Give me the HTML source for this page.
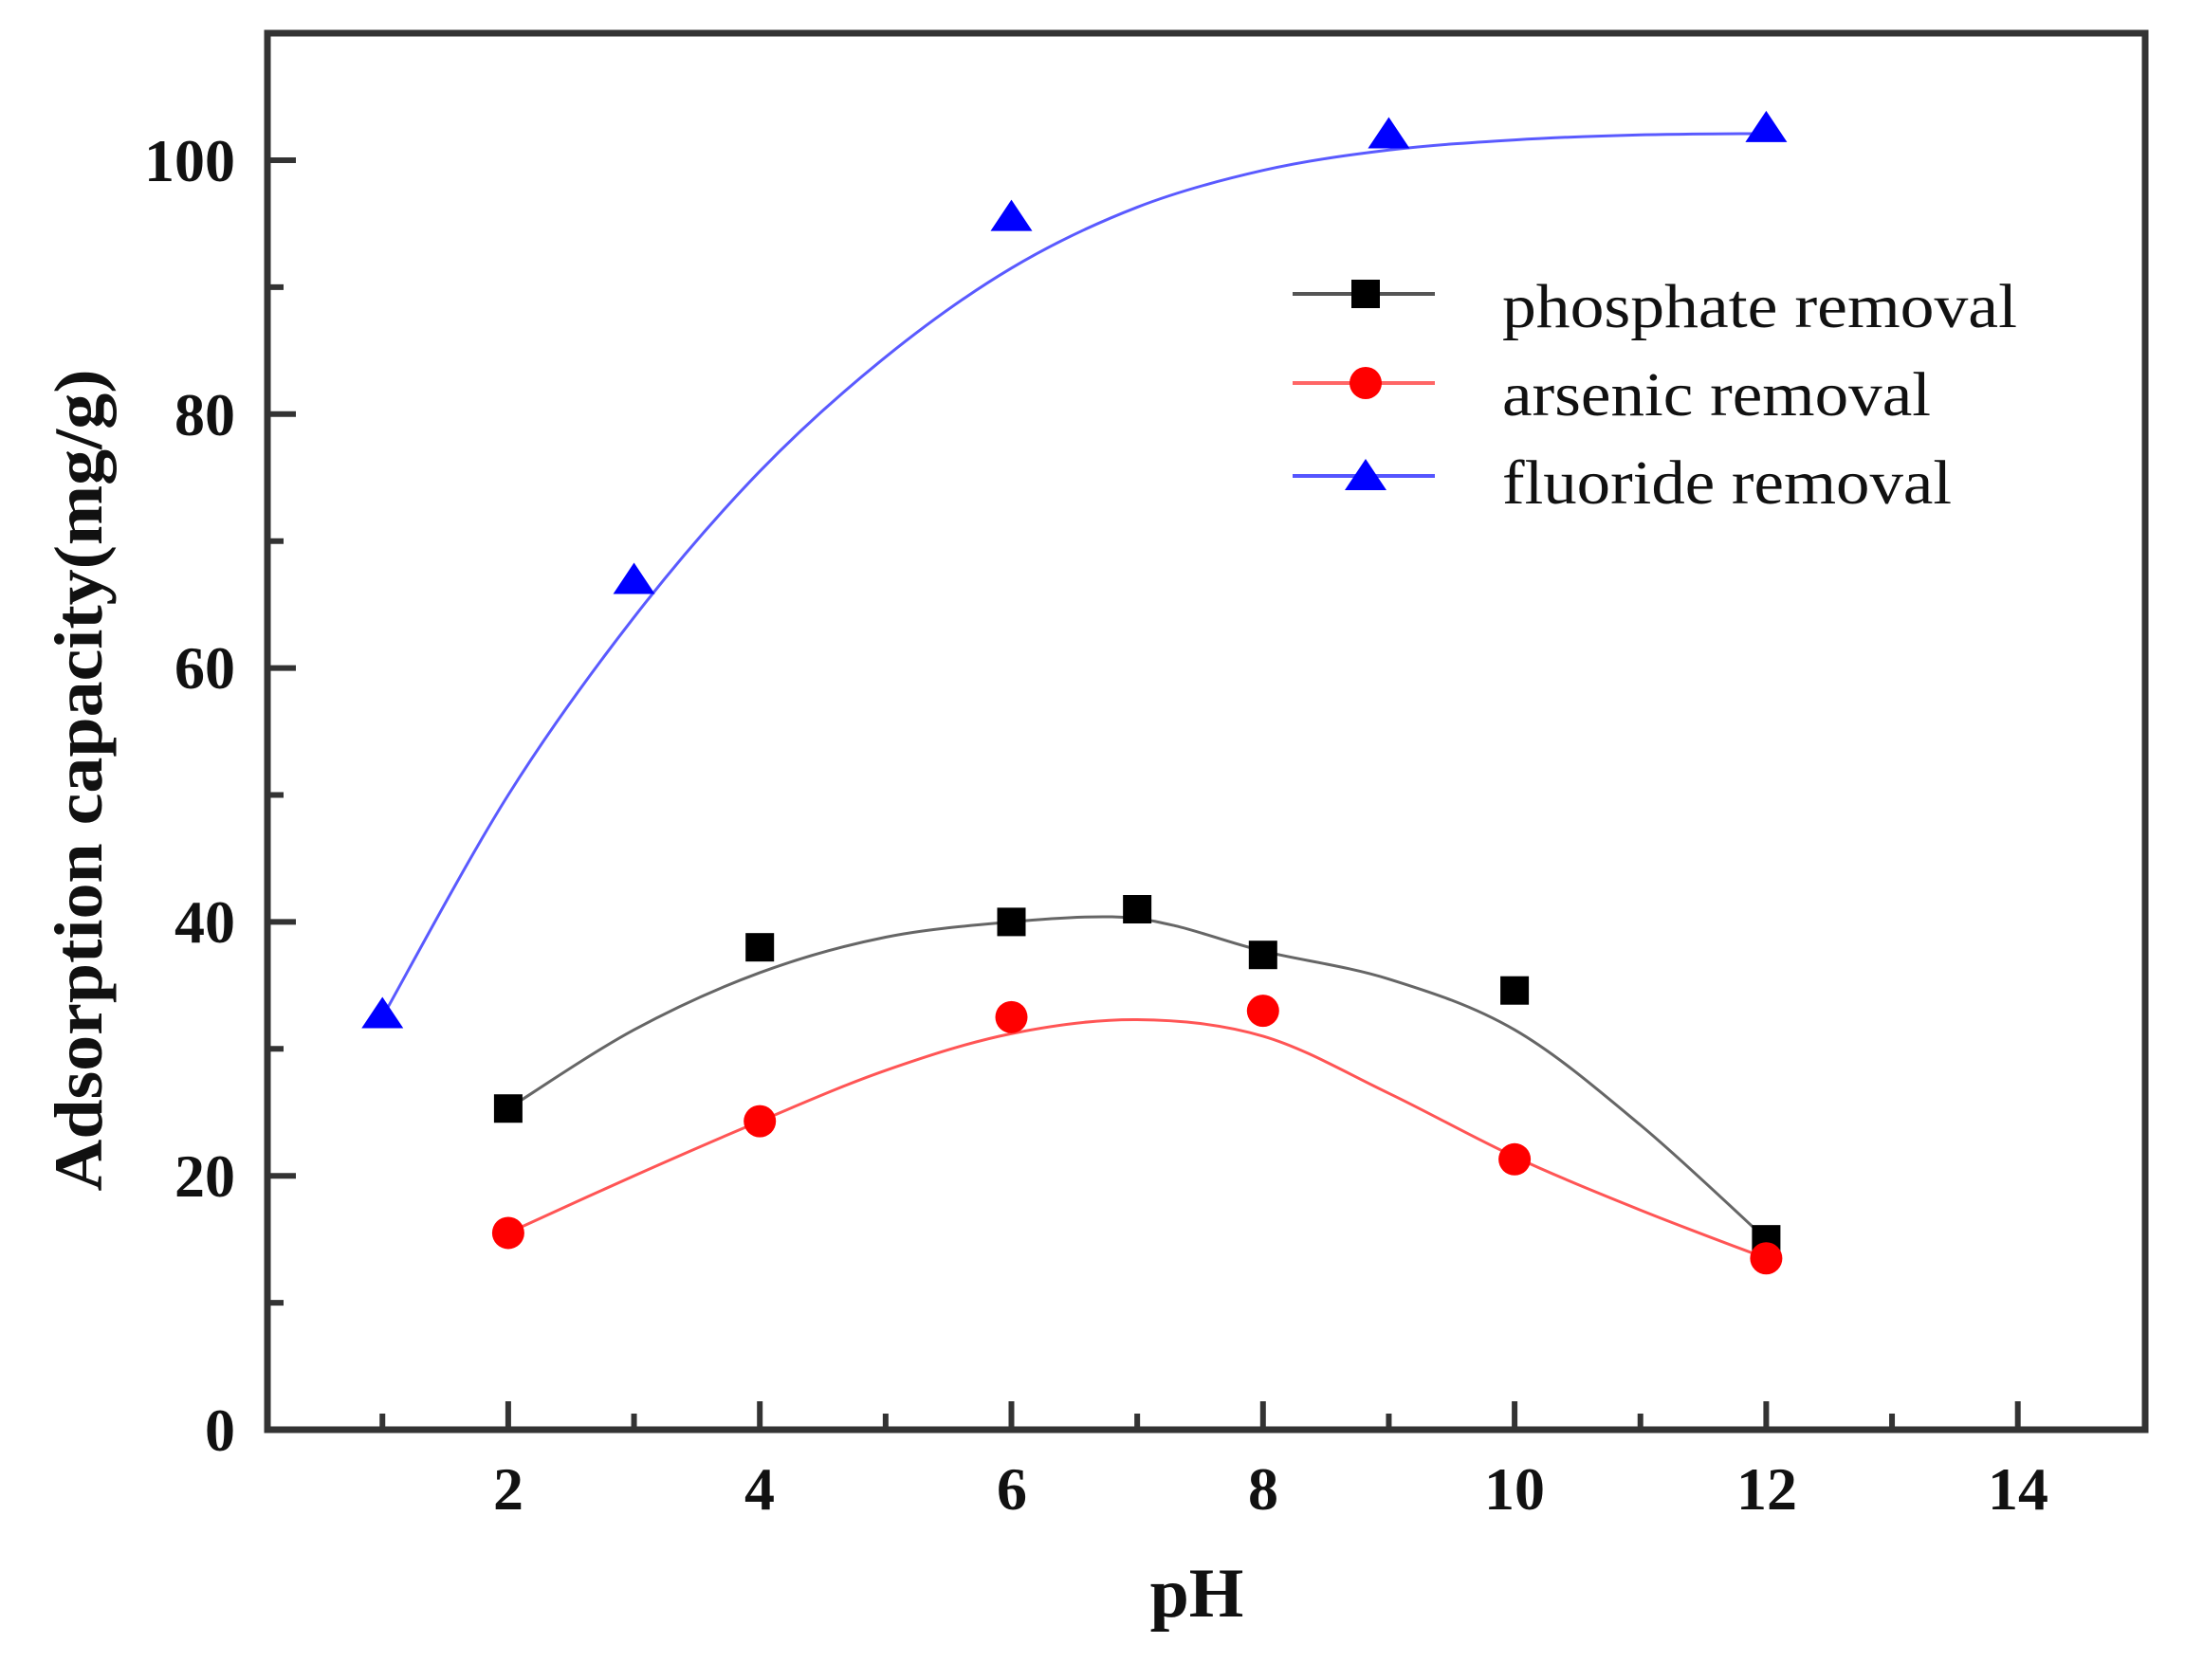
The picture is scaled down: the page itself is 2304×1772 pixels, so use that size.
<!DOCTYPE html>
<html><head><meta charset="utf-8"><style>
html,body{margin:0;padding:0;background:#fff;}
svg{display:block;}
</style></head><body>
<svg id="c" width="2304" height="1772" viewBox="0 0 2304 1772" xmlns="http://www.w3.org/2000/svg">
<rect width="2304" height="1772" fill="#fff"/>
<g id="curves"></g>
<g id="ticks" stroke="#333" stroke-width="6"></g>
<rect x="282" y="35" width="1980" height="1473" fill="none" stroke="#333" stroke-width="7"/>
<g font-family="'Liberation Serif',serif" font-weight="bold" font-size="64" fill="#111" text-anchor="end">
<text x="248" y="1530">0</text>
<text x="248" y="1262">20</text>
<text x="248" y="994">40</text>
<text x="248" y="726">60</text>
<text x="248" y="459">80</text>
<text x="248" y="191">100</text>
</g>
<g font-family="'Liberation Serif',serif" font-weight="bold" font-size="64" fill="#111" text-anchor="middle">
<text x="536" y="1592">2</text>
<text x="801" y="1592">4</text>
<text x="1067" y="1592">6</text>
<text x="1332" y="1592">8</text>
<text x="1597" y="1592">10</text>
<text x="1863" y="1592">12</text>
<text x="2128" y="1592">14</text>
</g>
<text x="1262" y="1705" font-family="'Liberation Serif',serif" font-weight="bold" font-size="74" fill="#111" text-anchor="middle">pH</text>
<text transform="translate(107,823) rotate(-90)" font-family="'Liberation Serif',serif" font-weight="bold" font-size="72" fill="#111" text-anchor="middle" textLength="867" lengthAdjust="spacingAndGlyphs">Adsorption capacity(mg/g)</text>
<g id="markers"></g>
<g>
<line x1="1363" y1="310" x2="1513" y2="310" stroke="#555" stroke-width="4"/>
<rect x="1425" y="295" width="30" height="30" fill="#000"/>
<line x1="1363" y1="404" x2="1513" y2="404" stroke="#f66" stroke-width="4"/>
<circle cx="1440" cy="404" r="17" fill="#f00"/>
<line x1="1363" y1="502" x2="1513" y2="502" stroke="#55f" stroke-width="4"/>
<polygon points="1440,484 1462,517 1418,517" fill="#00f"/>
</g>
<g font-family="'Liberation Serif',serif" font-size="66" fill="#111">
<text x="1584" y="345" textLength="543" lengthAdjust="spacingAndGlyphs">phosphate removal</text>
<text x="1584" y="438" textLength="452" lengthAdjust="spacingAndGlyphs">arsenic removal</text>
<text x="1584" y="531" textLength="474" lengthAdjust="spacingAndGlyphs">fluoride removal</text>
</g>
</svg>
<script>
(function(){
var NS="http://www.w3.org/2000/svg";
function X(p){return 270.6+132.65*p;}
function Y(v){return 1508-13.39*v;}
function el(t,a,parent){var e=document.createElementNS(NS,t);for(var k in a)e.setAttribute(k,a[k]);parent.appendChild(e);return e;}
var ticks=document.getElementById('ticks');
for(var p=1;p<=14;p++){var L=(p%2==0)?30:17;el('line',{x1:X(p),y1:1508,x2:X(p),y2:1508-L},ticks);}
for(var v=10;v<=100;v+=10){var L=(v%20==0)?30:17;el('line',{x1:282,y1:Y(v),x2:282+L,y2:Y(v)},ticks);}
function path(pts){var P=pts.map(function(a){return [X(a[0]),Y(a[1])];});var d="M"+P[0][0]+","+P[0][1];
for(var i=0;i<P.length-1;i++){var p0=P[i-1]||P[i],p1=P[i],p2=P[i+1],p3=P[i+2]||P[i+1];
d+=" C"+(p1[0]+(p2[0]-p0[0])/6)+","+(p1[1]+(p2[1]-p0[1])/6)+" "+(p2[0]-(p3[0]-p1[0])/6)+","+(p2[1]-(p3[1]-p1[1])/6)+" "+p2[0]+","+p2[1];}
return d;}
var cv=document.getElementById('curves');
el('path',{d:path([[1,32.5],[2,50],[3,64],[4,75.5],[5,84.5],[6,91.5],[7,96.3],[8,99.2],[9,100.8],[10,101.6],[11,102],[12,102.1]]),fill:'none',stroke:'#5a5aff','stroke-width':3},cv);
el('path',{d:path([[2,25.3],[3,31.5],[4,36],[5,38.8],[6,40],[6.8,40.4],[7.3,39.7],[8,37.7],[9,35.5],[10,31.5],[11,24],[12,15]]),fill:'none',stroke:'#666','stroke-width':3},cv);
el('path',{d:path([[2,15.5],[3,20],[4,24.3],[5,28.3],[6,31.2],[7,32.3],[8,31],[9,26.5],[10,21.5],[11,17.3],[12,13.5]]),fill:'none',stroke:'#f55','stroke-width':3},cv);
var mk=document.getElementById('markers');
[[2,25.3],[4,38],[6,40],[7,41],[8,37.4],[10,34.6],[12,15]].forEach(function(a){el('rect',{x:X(a[0])-15,y:Y(a[1])-15,width:30,height:30,fill:'#000'},mk);});
[[2,15.5],[4,24.3],[6,32.5],[8,33],[10,21.3],[12,13.5]].forEach(function(a){el('circle',{cx:X(a[0]),cy:Y(a[1]),r:17,fill:'#f00'},mk);});
[[1,32.6],[3,66.8],[6,95.4],[9,101.9],[12,102.4]].forEach(function(a){var x=X(a[0]),y=Y(a[1]);el('polygon',{points:x+","+(y-20)+" "+(x+22)+","+(y+13)+" "+(x-22)+","+(y+13),fill:'#00f'},mk);});
})();
</script>
</body></html>
